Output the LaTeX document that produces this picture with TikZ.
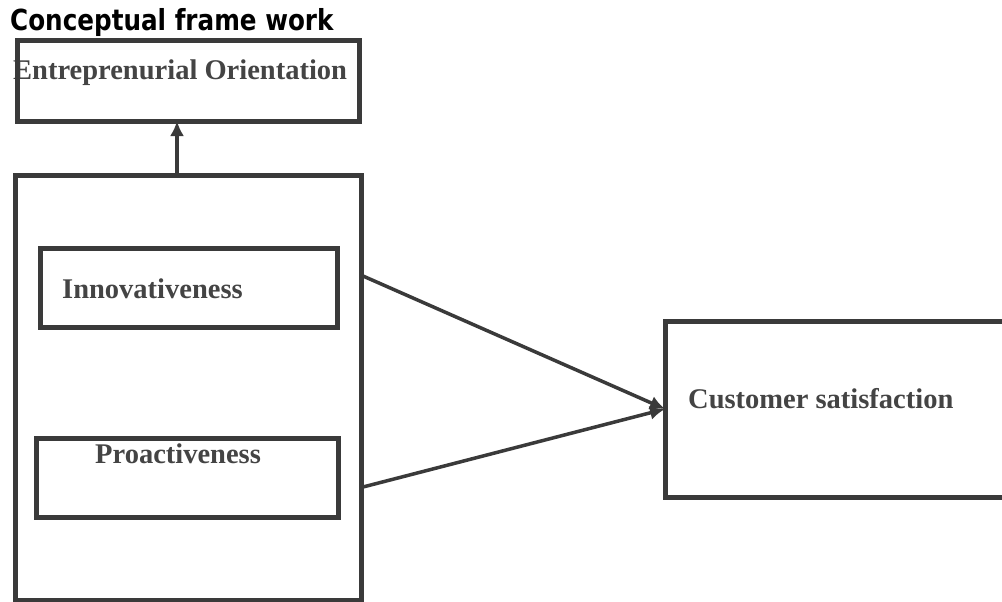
\documentclass[tikz,border=0pt]{standalone}
\usepackage{fontspec}
\setmainfont{Liberation Serif}
\newfontfamily\titlefont[FakeStretch=0.85]{DejaVu Sans}
\usetikzlibrary{arrows.meta}

\definecolor{inkline}{RGB}{58,58,58}
\definecolor{inktext}{RGB}{68,68,68}

\tikzset{
  framebox/.style={draw=inkline, line width=5pt, inner sep=0pt, outer sep=0pt},
  boxtext/.style={anchor=base west, inner sep=0pt, text=inktext, font=\fontsize{28.5}{34}\selectfont\bfseries},
  linkarrow/.style={draw=inkline, line width=3.5pt, -{Latex[length=15pt,width=14pt]}}
}

\begin{document}
\begin{tikzpicture}[x=1pt,y=1pt,yscale=-1,xscale=1]

\clip (0,0) rectangle (1002,602);
\fill[white] (0,0) rectangle (1002,602);

% Text Node
\node (title) [anchor=base west, inner sep=0pt, font=\titlefont\fontsize{29}{34}\selectfont\bfseries] at (10,31) {Conceptual frame work};

% Text Node
\node (eotext) [boxtext] at (13,80) {Entreprenurial Orientation};
% Text Node
\node (innovtext) [boxtext] at (62,298) {Innovativeness};
% Text Node
\node (proacttext) [boxtext] at (95,463) {Proactiveness};
% Text Node
\node (cstext) [boxtext] at (688,408) {Customer satisfaction};

%Shape: Rectangle
\node (eo) [framebox, minimum width=342pt, minimum height=80pt] at (188,81) {};
%Shape: Rectangle
\node (dims) [framebox, minimum width=346pt, minimum height=425pt] at (188,387.5) {};
%Shape: Rectangle
\node (innov) [framebox, minimum width=297pt, minimum height=79pt] at (188.5,287.5) {};
%Shape: Rectangle
\node (proact) [framebox, minimum width=302pt, minimum height=79pt] at (187,477.5) {};
%Shape: Rectangle
\node (cs) [framebox, minimum width=345pt, minimum height=176pt] at (837.5,409) {};

\coordinate (uparrow) at (177,175);
\coordinate (innovout) at (363,276);
\coordinate (proactout) at (363,487);

%Straight Lines
\draw [linkarrow, line width=4.5pt] (uparrow) -- (uparrow |- eo.south);
\draw [linkarrow] (innovout) -- (cs.west);
\draw [linkarrow] (proactout) -- (cs.west);

\end{tikzpicture}
\end{document}
